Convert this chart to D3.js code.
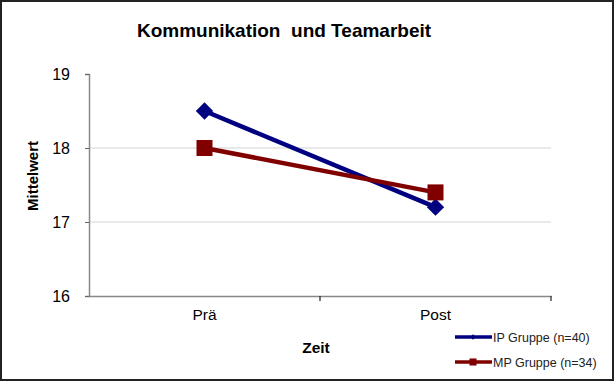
<!DOCTYPE html>
<html><head><meta charset="utf-8">
<script src="https://cdn.jsdelivr.net/npm/d3@7/dist/d3.min.js"></script>
<style>body{margin:0;background:#fff}svg{display:block}</style>
</head><body>
<script>
const categories = ["Prä", "Post"];
const ipValues = [18.5, 17.2];
const mpValues = [18.0, 17.4];
const yTicks = [16, 17, 18, 19];
const seriesNames = ["IP Gruppe (n=40)", "MP Gruppe (n=34)"];
const seriesColors = ["#000080", "#800000"];
const title = "Kommunikation  und Teamarbeit";

const W = 614, H = 381;
const svg = d3.select("body").append("svg").attr("width", W).attr("height", H);
svg.append("rect").attr("x", 1).attr("y", 1).attr("width", W - 2).attr("height", H - 2)
  .attr("fill", "#fff").attr("stroke", "#222").attr("stroke-width", 2);

const m = {left: 89, right: 551, top: 74, bottom: 296};
const x = d3.scaleBand().domain(categories).range([m.left, m.right]);
const y = d3.scaleLinear().domain([16, 19]).range([m.bottom, m.top]);

// gridlines
svg.append("g").selectAll("line").data(yTicks.filter(t => t > 16 && t < 19)).join("line")
  .attr("x1", m.left).attr("x2", m.right).attr("y1", d => y(d)).attr("y2", d => y(d))
  .attr("stroke", "#d4d4d4").attr("stroke-width", 1.2);

// y axis
const ya = svg.append("g").attr("transform", `translate(${m.left},0)`)
  .call(d3.axisLeft(y).tickValues(yTicks).tickSize(4).tickPadding(15).tickFormat(d3.format("d")));
ya.select(".domain").attr("stroke", "#888").attr("stroke-width", 1.5);
ya.selectAll(".tick line").attr("stroke", "#666");
ya.selectAll("text").attr("font-family", "Liberation Sans, Arial, sans-serif").attr("font-size", 16).attr("fill", "#000");

// x axis
const xa = svg.append("g").attr("transform", `translate(0,${m.bottom})`)
  .call(d3.axisBottom(x).tickSize(0).tickPadding(13));
xa.select(".domain").attr("stroke", "#888").attr("stroke-width", 1.5);
xa.selectAll("text").attr("font-family", "Liberation Sans, Arial, sans-serif").attr("font-size", 15.5).attr("fill", "#000");
// boundary ticks
svg.append("g").selectAll("line").data(categories.slice(1)).join("line")
  .attr("x1", d => x(d)).attr("x2", d => x(d)).attr("y1", m.bottom).attr("y2", m.bottom + 5)
  .attr("stroke", "#222").attr("stroke-width", 1.2);
svg.append("line").attr("x1", m.right).attr("x2", m.right).attr("y1", m.bottom).attr("y2", m.bottom + 5)
  .attr("stroke", "#222").attr("stroke-width", 1.2);

const cx = d => x(d) + x.bandwidth() / 2;
const line = d3.line().x(d => cx(d.c)).y(d => y(d.v));
const series = [ipValues, mpValues].map((vals, i) => ({
  name: seriesNames[i], color: seriesColors[i],
  pts: categories.map((c, j) => ({c, v: vals[j]}))
}));

series.forEach((s, i) => {
  svg.append("path").datum(s.pts).attr("d", line).attr("fill", "none")
    .attr("stroke", s.color).attr("stroke-width", 4.5);
  svg.append("g").selectAll("path").data(s.pts).join("path")
    .attr("transform", d => `translate(${cx(d.c)},${y(d.v)})` + (i === 0 ? " rotate(45)" : ""))
    .attr("d", d3.symbol(d3.symbolSquare, i === 0 ? 150 : 256)).attr("fill", s.color);
});

// title
svg.append("text").attr("x", 284).attr("y", 37).attr("text-anchor", "middle")
  .attr("font-family", "Liberation Sans, Arial, sans-serif").attr("font-weight", "bold")
  .attr("font-size", 19).style("white-space", "pre").text(title);

// axis titles
svg.append("text").attr("transform", "translate(38,176) rotate(-90)").attr("text-anchor", "middle")
  .attr("font-family", "Liberation Sans, Arial, sans-serif").attr("font-weight", "bold")
  .attr("font-size", 15).text("Mittelwert");
svg.append("text").attr("x", 316).attr("y", 353).attr("text-anchor", "middle")
  .attr("font-family", "Liberation Sans, Arial, sans-serif").attr("font-weight", "bold")
  .attr("font-size", 15.5).text("Zeit");

// legend
const lg = svg.append("g");
series.forEach((s, i) => {
  const ly = 337 + i * 25;
  lg.append("line").attr("x1", 455).attr("x2", 492).attr("y1", ly).attr("y2", ly)
    .attr("stroke", s.color).attr("stroke-width", 3.5);
  lg.append("path").attr("transform", `translate(473,${ly})` + (i === 0 ? " rotate(45)" : ""))
    .attr("d", d3.symbol(d3.symbolSquare, i === 0 ? 14 : 50)).attr("fill", s.color);
  lg.append("text").attr("x", 493).attr("y", ly + 4.5)
    .attr("font-family", "Liberation Sans, Arial, sans-serif").attr("font-size", 12.5)
    .attr("fill", "#222").text(s.name);
});
</script>
</body></html>
